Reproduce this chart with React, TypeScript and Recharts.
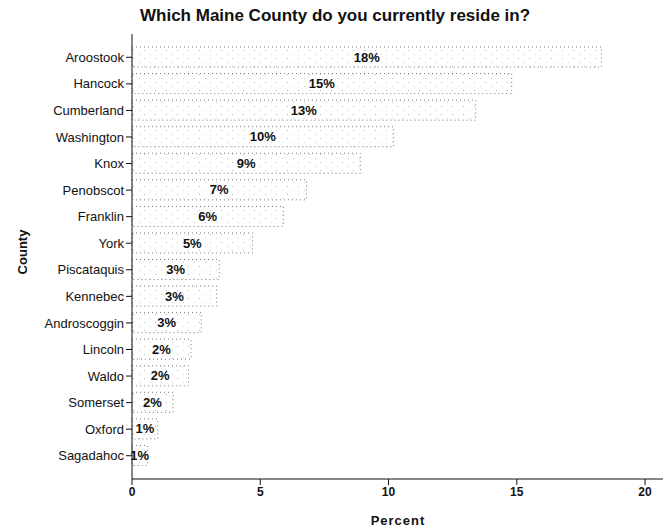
import { BarChart, Bar, XAxis, YAxis, LabelList } from "recharts"

const counties = [
	"Aroostook",
	"Hancock",
	"Cumberland",
	"Washington",
	"Knox",
	"Penobscot",
	"Franklin",
	"York",
	"Piscataquis",
	"Kennebec",
	"Androscoggin",
	"Lincoln",
	"Waldo",
	"Somerset",
	"Oxford",
	"Sagadahoc",
]
const percents = [18.3, 14.8, 13.4, 10.2, 8.9, 6.8, 5.9, 4.7, 3.4, 3.3, 2.7, 2.3, 2.2, 1.6, 1.0, 0.6]
const percentTicks = [0, 5, 10, 15, 20]

const data = counties.map((county, i) => ({ county, percent: percents[i] }))

const font = '"Liberation Sans", Arial, sans-serif'

const App = () => (
	<div style={{ position: "absolute", left: 0, top: 0, width: 663, height: 529, background: "#fff" }}>
		<div
			style={{
				position: "absolute",
				left: 140,
				top: 6,
				fontFamily: font,
				fontSize: 17,
				fontWeight: 600,
				color: "#111",
				whiteSpace: "nowrap",
			}}
		>
			Which Maine County do you currently reside in?
		</div>
		<BarChart
			width={663}
			height={529}
			data={data}
			layout="vertical"
			margin={{ top: 34, right: 0, bottom: 0, left: 0 }}
		>
			<defs>
				{/* sparse speckle fill for the bars */}
				<pattern id="stipple" width="11" height="8" patternUnits="userSpaceOnUse">
					<rect width="11" height="8" fill="#fff" />
					<rect x="1" y="2" width="1" height="1" fill="#bbb" />
					<rect x="7" y="6" width="1" height="1" fill="#ccc" />
				</pattern>
			</defs>
			<XAxis
				xAxisId="top"
				orientation="top"
				type="number"
				domain={[0, 20.7]}
				height={0}
				tick={false}
				tickLine={false}
				axisLine={{ stroke: "#444" }}
			/>
			<XAxis
				type="number"
				domain={[0, 20.7]}
				ticks={percentTicks}
				height={50}
				tickSize={6}
				tickLine={{ stroke: "#111" }}
				axisLine={{ stroke: "#111" }}
				tick={{ fill: "#111", fontFamily: font, fontSize: 12, fontWeight: "bold" }}
				label={{
					content: () => (
						<text
							x={398}
							y={525}
							textAnchor="middle"
							fontFamily={font}
							fontSize={13}
							fontWeight="bold"
							letterSpacing={1}
							fill="#111"
						>
							Percent
						</text>
					),
				}}
			/>
			<YAxis
				type="category"
				dataKey="county"
				width={132}
				padding={{ top: 10, bottom: 10 }}
				tickSize={6}
				interval={0}
				tickLine={{ stroke: "#111" }}
				axisLine={{ stroke: "#111" }}
				tick={{ fill: "#111", fontFamily: font, fontSize: 13 }}
				label={{
					content: () => (
						<text
							x={22}
							y={252}
							textAnchor="middle"
							transform="rotate(-90 22 252)"
							dominantBaseline="central"
							fontFamily={font}
							fontSize={13}
							fontWeight="bold"
							fill="#111"
						>
							County
						</text>
					),
				}}
			/>
			<Bar
				dataKey="percent"
				barSize={20}
				fill="url(#stipple)"
				stroke="#777"
				strokeWidth={1}
				strokeDasharray="1 3"
				isAnimationActive={false}
			>
				<LabelList
					dataKey="percent"
					position="center"
					formatter={(v: number) => `${Math.round(v)}%`}
					style={{ fill: "#111", fontFamily: font, fontSize: 13, fontWeight: "bold" }}
				/>
			</Bar>
		</BarChart>
	</div>
)

export default App
